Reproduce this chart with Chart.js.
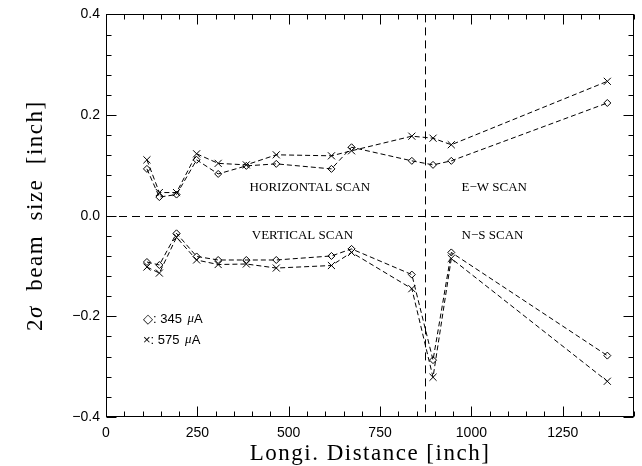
<!DOCTYPE html>
<html><head><meta charset="utf-8">
<script src="https://cdn.jsdelivr.net/npm/chart.js@4/dist/chart.umd.min.js"></script>
<style>html,body{margin:0;padding:0;background:#fff}#wrap{width:642px;height:466px}canvas{display:block}</style>
</head><body>
<div id="wrap"><canvas id="c" width="642" height="466"></canvas></div>
<script>
// ---- data ----
const distances = [112, 146, 193, 248, 307, 384, 466, 617, 672, 837, 895, 945, 1372];
const horiz345  = [0.093, 0.037, 0.042, 0.111, 0.083, 0.099, 0.103, 0.093, 0.136, 0.109, 0.101, 0.109, 0.224];
const horiz575  = [0.111, 0.046, 0.046, 0.123, 0.104, 0.101, 0.121, 0.119, 0.129, 0.158, 0.154, 0.141, 0.267];
const vert345   = [-0.092, -0.098, -0.035, -0.081, -0.088, -0.088, -0.088, -0.080, -0.066, -0.117, -0.287, -0.073, -0.278];
const vert575   = [-0.102, -0.114, -0.043, -0.088, -0.097, -0.096, -0.104, -0.099, -0.073, -0.145, -0.321, -0.085, -0.329];
const xTickLabels = [0, 250, 500, 750, 1000, 1250];
const yTickLabels = [-0.4, -0.2, 0.0, 0.2, 0.4];
const xRange = [0, 1445];
const yRange = [-0.4, 0.4];
const dividerX = 872;
const zeroY = 0;
const annotations = [
  {text: 'HORIZONTAL SCAN', x: 393, y: 0.056},
  {text: 'E\u2212W SCAN', x: 973, y: 0.056},
  {text: 'VERTICAL SCAN', x: 399, y: -0.040},
  {text: 'N\u2212S SCAN', x: 973, y: -0.039}
];
const seriesNames = ['345', '575'];
const xTitle = 'Longi. Distance [inch]';

function pts(ys) { return distances.map((x, i) => ({x: x, y: ys[i]})); }

function ds(ys, style, r) {
  return {
    data: pts(ys),
    borderColor: '#000',
    borderWidth: 1,
    borderDash: [5, 3],
    pointStyle: style,
    pointRadius: r,
    pointBorderColor: '#000',
    pointBackgroundColor: 'rgba(0,0,0,0)',
    pointBorderWidth: 1,
    tension: 0,
    fill: false
  };
}

const TITLE_FONT = '23px "Liberation Serif"';
const TITLE_FONT_IT = 'italic 23px "Liberation Serif"';

const decor = {
  id: 'decor',
  beforeDatasetsDraw(chart) {
    const ctx = chart.ctx, a = chart.chartArea, xs = chart.scales.x, ys = chart.scales.y;
    ctx.save();
    ctx.strokeStyle = '#000';
    ctx.lineWidth = 1;
    ctx.setLineDash([8, 5]);
    const y0 = Math.round(ys.getPixelForValue(zeroY)) + 0.5;
    ctx.beginPath(); ctx.moveTo(a.left, y0); ctx.lineTo(a.right, y0); ctx.stroke();
    const xd = Math.round(xs.getPixelForValue(dividerX)) + 0.5;
    ctx.beginPath(); ctx.moveTo(xd, a.top); ctx.lineTo(xd, a.bottom); ctx.stroke();
    ctx.restore();
  },
  afterDraw(chart) {
    const ctx = chart.ctx, a = chart.chartArea, xs = chart.scales.x, ys = chart.scales.y;
    ctx.save();
    ctx.strokeStyle = '#000';
    ctx.lineWidth = 1;
    ctx.setLineDash([]);
    // frame
    const L = Math.round(a.left) + 0.5, R = Math.round(a.right) - 0.5;
    const T = Math.round(a.top) + 0.5, B = Math.round(a.bottom) - 0.5;
    ctx.strokeRect(L, T, R - L, B - T);
    // inward ticks
    ctx.beginPath();
    xs.ticks.forEach(t => {
      const major = t.label !== '';
      const len = major ? 10 : 5;
      const p = Math.round(xs.getPixelForValue(t.value)) + 0.5;
      ctx.moveTo(p, B); ctx.lineTo(p, B - len);
      ctx.moveTo(p, T); ctx.lineTo(p, T + len);
    });
    ys.ticks.forEach(t => {
      const major = t.label !== '';
      const len = major ? 10 : 5;
      const p = Math.round(ys.getPixelForValue(t.value)) + 0.5;
      ctx.moveTo(L, p); ctx.lineTo(L + len, p);
      ctx.moveTo(R, p); ctx.lineTo(R - len, p);
    });
    ctx.stroke();
    // annotations
    ctx.fillStyle = '#000';
    ctx.font = '13px "Liberation Serif"';
    ctx.textAlign = 'left';
    ctx.textBaseline = 'middle';
    annotations.forEach(an => {
      ctx.fillText(an.text, xs.getPixelForValue(an.x), ys.getPixelForValue(an.y));
    });
    // legend
    const lx = 143, ly = [319, 340];
    const syms = ['\u25C7', '\u00D7'];
    seriesNames.forEach((n, i) => {
      let x = lx;
      ctx.font = '13px "Liberation Sans"';
      ctx.textBaseline = 'middle';
      const s = syms[i] + ': ' + n + ' ';
      ctx.fillText(s, x, ly[i]);
      x += ctx.measureText(s).width + 2;
      ctx.font = 'italic 13px "Liberation Serif"';
      ctx.fillText('\u03BC', x, ly[i]);
      x += ctx.measureText('\u03BC').width;
      ctx.font = '13px "Liberation Sans"';
      ctx.fillText('A', x, ly[i]);
    });
    // x title
    ctx.font = TITLE_FONT;
    if ('letterSpacing' in ctx) ctx.letterSpacing = '1.5px';
    ctx.textAlign = 'center';
    ctx.textBaseline = 'alphabetic';
    ctx.fillText(xTitle, (a.left + a.right) / 2, 460);
    // y title (rotated, italic sigma)
    const parts = [
      {t: '2', f: TITLE_FONT},
      {t: '\u03C3', f: TITLE_FONT_IT},
      {t: '  beam  size  [inch]', f: TITLE_FONT}
    ];
    let total = 0;
    parts.forEach(p => { ctx.font = p.f; p.w = ctx.measureText(p.t).width; total += p.w; });
    ctx.translate(42, (a.top + a.bottom) / 2);
    ctx.rotate(-Math.PI / 2);
    ctx.textAlign = 'left';
    let px = -total / 2;
    parts.forEach(p => { ctx.font = p.f; ctx.fillText(p.t, px, 0); px += p.w; });
    ctx.restore();
  }
};

new Chart(document.getElementById('c'), {
  type: 'line',
  data: {
    datasets: [
      ds(horiz345, 'rectRot', 3.5),
      ds(horiz575, 'crossRot', 5),
      ds(vert345, 'rectRot', 3.5),
      ds(vert575, 'crossRot', 5)
    ]
  },
  options: {
    responsive: false,
    animation: false,
    devicePixelRatio: 1,
    layout: {padding: {left: 0, top: 13, right: 6, bottom: 0}},
    plugins: {legend: {display: false}, tooltip: {enabled: false}},
    scales: {
      x: {
        type: 'linear',
        min: xRange[0], max: xRange[1],
        grid: {display: false, drawTicks: false},
        border: {display: false},
        ticks: {
          stepSize: 50, autoSkip: false, maxRotation: 0, padding: 8,
          color: '#000',
          font: {family: 'Liberation Sans', size: 14},
          callback: v => xTickLabels.includes(Math.round(v)) && Math.abs(v - Math.round(v)) < 1e-6 ? String(Math.round(v)) : ''
        },
        afterFit: s => { s.height = 49; }
      },
      y: {
        type: 'linear',
        min: yRange[0], max: yRange[1],
        grid: {display: false, drawTicks: false},
        border: {display: false},
        ticks: {
          stepSize: 0.04, autoSkip: false, padding: 6,
          color: '#000',
          font: {family: 'Liberation Sans', size: 14},
          callback: v => {
            const r = Math.round(v * 100) / 100;
            if (!yTickLabels.some(t => Math.abs(t - r) < 1e-9)) return '';
            return (r < 0 ? '\u2212' : '') + Math.abs(r).toFixed(1);
          }
        },
        afterFit: s => { s.width = 106; }
      }
    }
  },
  plugins: [decor]
});
</script>
</body></html>
